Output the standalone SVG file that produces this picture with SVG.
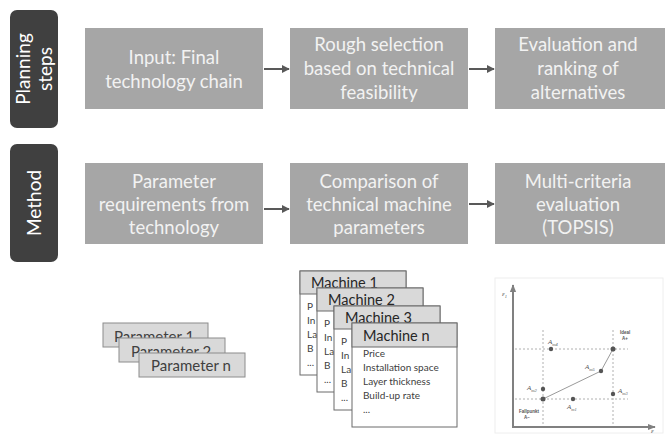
<svg xmlns="http://www.w3.org/2000/svg" width="665" height="434" viewBox="0 0 665 434">
<defs>
<style>
.lab{fill:#404040}
.labt{font-family:Lato,"Open Sans",sans-serif;font-size:19px;fill:#ffffff;text-anchor:middle}
.step{fill:#a6a6a6}
.stept{font-family:Lato,"Open Sans",sans-serif;font-size:18.5px;fill:#f2f2f2;text-anchor:middle}
.conn{stroke:#595959;stroke-width:2;fill:none}
.par{fill:#d9d9d9;stroke:#8c8c8c;stroke-width:1}
.part{font-family:Lato,"Open Sans",sans-serif;font-size:15px;fill:#404040}
.mbox{fill:#ffffff;stroke:#6b6b6b;stroke-width:1}
.mhead{fill:#d9d9d9;stroke:#6b6b6b;stroke-width:1}
.mht{font-family:Lato,"Open Sans",sans-serif;font-size:14.5px;fill:#262626}
.mt{font-family:Lato,"Open Sans",sans-serif;font-size:10px;fill:#404040}
.axis{stroke:#808080;stroke-width:2;fill:none}
.dot{stroke:#b0b0b0;stroke-width:1;stroke-dasharray:2 2;fill:none}
.pt{fill:#555555}
.ct{font-family:"Liberation Serif",serif;font-style:italic;font-size:7px;fill:#555555}
.cs{font-family:"Liberation Sans",sans-serif;font-size:4.5px;fill:#555555;font-weight:bold}
</style>
<marker id="ah" viewBox="0 0 10 10" refX="9" refY="5" markerWidth="4" markerHeight="4" orient="auto">
<path d="M0,0 L10,5 L0,10 z" fill="#595959"/>
</marker>
<marker id="axh" viewBox="0 0 10 10" refX="9" refY="5" markerWidth="4" markerHeight="4" orient="auto">
<path d="M0,1 L10,5 L0,9 z" fill="#808080"/>
</marker>
</defs>
<rect width="665" height="434" fill="#ffffff"/>

<g id="label-planning">
<rect class="lab" x="10" y="10" width="48" height="118" rx="7"/>
<text class="labt" transform="translate(34,69) rotate(-90)"><tspan x="0" y="-4">Planning</tspan><tspan x="0" y="18">steps</tspan></text>
</g>
<g id="label-method">
<rect class="lab" x="10" y="144" width="48" height="118" rx="7"/>
<text class="labt" transform="translate(34,203) rotate(-90)"><tspan x="0" y="7">Method</tspan></text>
</g>

<g id="step-input">
<rect class="step" x="85" y="28" width="178" height="81"/>
<text class="stept"><tspan x="174" y="64">Input: Final</tspan><tspan x="174" y="88">technology chain</tspan></text>
</g>
<g id="step-rough">
<rect class="step" x="290" y="28" width="178" height="81"/>
<text class="stept"><tspan x="379" y="51">Rough selection</tspan><tspan x="379" y="75">based on technical</tspan><tspan x="379" y="99">feasibility</tspan></text>
</g>
<g id="step-evaluation">
<rect class="step" x="495" y="28" width="172" height="81"/>
<text class="stept"><tspan x="578" y="51">Evaluation and</tspan><tspan x="578" y="75">ranking of</tspan><tspan x="578" y="99">alternatives</tspan></text>
</g>

<g id="method-params">
<rect class="step" x="85" y="163" width="178" height="81"/>
<text class="stept"><tspan x="174" y="188">Parameter</tspan><tspan x="174" y="211">requirements from</tspan><tspan x="174" y="234">technology</tspan></text>
</g>
<g id="method-comparison">
<rect class="step" x="290" y="163" width="178" height="81"/>
<text class="stept"><tspan x="379" y="188">Comparison of</tspan><tspan x="379" y="211">technical machine</tspan><tspan x="379" y="234">parameters</tspan></text>
</g>
<g id="method-topsis">
<rect class="step" x="495" y="163" width="172" height="81"/>
<text class="stept"><tspan x="578" y="188">Multi-criteria</tspan><tspan x="578" y="211">evaluation</tspan><tspan x="578" y="234">(TOPSIS)</tspan></text>
</g>

<g id="connectors">
<line class="conn" x1="264" y1="69" x2="289" y2="69" marker-end="url(#ah)"/>
<line class="conn" x1="469" y1="69" x2="494" y2="69" marker-end="url(#ah)"/>
<line class="conn" x1="264" y1="209" x2="289" y2="209" marker-end="url(#ah)"/>
<line class="conn" x1="469" y1="204" x2="494" y2="204" marker-end="url(#ah)"/>
</g>

<g id="parameter-1">
<rect class="par" x="103" y="323" width="105" height="24"/>
<text class="part" x="114" y="342">Parameter 1</text>
</g>
<g id="parameter-2">
<rect class="par" x="119" y="338" width="106" height="24"/>
<text class="part" x="131" y="357">Parameter 2</text>
</g>
<g id="parameter-n">
<rect class="par" x="139" y="353" width="106" height="24"/>
<text class="part" x="151" y="371">Parameter n</text>
</g>

<g id="machine-1">
<rect class="mbox" x="300" y="271" width="106" height="104"/>
<rect class="mhead" x="300" y="271" width="106" height="23"/>
<text class="mht" x="311" y="288">Machine 1</text>
<text class="mt"><tspan x="307" y="310">P</tspan><tspan x="307" y="324">In</tspan><tspan x="307" y="338">La</tspan><tspan x="307" y="352">B</tspan><tspan x="307" y="366">...</tspan></text>
</g>
<g id="machine-2">
<rect class="mbox" x="317" y="288" width="106" height="104"/>
<rect class="mhead" x="317" y="288" width="106" height="23"/>
<text class="mht" x="328" y="305">Machine 2</text>
<text class="mt"><tspan x="324" y="327">P</tspan><tspan x="324" y="341">In</tspan><tspan x="324" y="355">La</tspan><tspan x="324" y="369">B</tspan><tspan x="324" y="383">...</tspan></text>
</g>
<g id="machine-3">
<rect class="mbox" x="334" y="306" width="106" height="104"/>
<rect class="mhead" x="334" y="306" width="106" height="23"/>
<text class="mht" x="345" y="323">Machine 3</text>
<text class="mt"><tspan x="341" y="345">P</tspan><tspan x="341" y="359">In</tspan><tspan x="341" y="373">La</tspan><tspan x="341" y="387">B</tspan><tspan x="341" y="401">...</tspan></text>
</g>
<g id="machine-n">
<rect class="mbox" x="352" y="323" width="105" height="104"/>
<rect class="mhead" x="352" y="323" width="105" height="24"/>
<text class="mht" x="363" y="341">Machine n</text>
<text class="mt"><tspan x="363" y="357">Price</tspan><tspan x="363" y="371">Installation space</tspan><tspan x="363" y="385">Layer thickness</tspan><tspan x="363" y="399">Build-up rate</tspan><tspan x="363" y="413">...</tspan></text>
</g>

<g id="topsis-chart">
<rect x="495" y="278" width="168" height="155" fill="none" stroke="#eeeeee" stroke-width="1"/>
<line class="dot" x1="543" y1="330" x2="543" y2="427"/>
<line class="dot" x1="613" y1="330" x2="613" y2="427"/>
<line class="dot" x1="515" y1="349" x2="628" y2="349"/>
<line class="dot" x1="515" y1="399" x2="628" y2="399"/>
<line class="axis" x1="513" y1="427" x2="513" y2="285" marker-end="url(#axh)"/>
<line class="axis" x1="512" y1="427" x2="655" y2="427" marker-end="url(#axh)"/>
<polyline points="543,399 601,371 613,349" fill="none" stroke="#9a9a9a" stroke-width="1"/>
<circle class="pt" cx="613" cy="349" r="2.5"/>
<circle class="pt" cx="601" cy="371" r="2.2"/>
<circle class="pt" cx="543" cy="399" r="2.5"/>
<circle class="pt" cx="543" cy="389" r="2.2"/>
<circle class="pt" cx="551" cy="349" r="2.2"/>
<circle class="pt" cx="613" cy="394" r="2.2"/>
<circle class="pt" cx="573" cy="399" r="2.2"/>
<text class="ct" x="502" y="296">ε<tspan font-size="4.5" dy="1.5">1</tspan></text>
<text class="ct" x="651" y="433" font-size="6">ε</text>
<text class="ct" x="548" y="344">A<tspan font-size="4.5" dy="1.5">m4</tspan></text>
<text class="ct" x="585" y="369">A<tspan font-size="4.5" dy="1.5">m5</tspan></text>
<text class="ct" x="527" y="390">A<tspan font-size="4.5" dy="1.5">m2</tspan></text>
<text class="ct" x="618" y="393">A<tspan font-size="4.5" dy="1.5">m3</tspan></text>
<text class="ct" x="567" y="409">A<tspan font-size="4.5" dy="1.5">m1</tspan></text>
<text class="cs" x="620" y="334">Ideal</text>
<text class="cs" x="622" y="340">A+</text>
<text class="cs" x="519" y="413">Fallpunkt</text>
<text class="cs" x="524" y="419">A−</text>
</g>
</svg>
